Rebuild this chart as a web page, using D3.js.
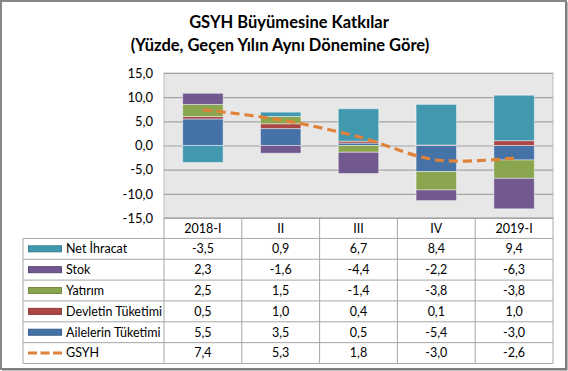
<!DOCTYPE html>
<html>
<head>
<meta charset="utf-8">
<script src="https://cdn.jsdelivr.net/npm/d3@7"></script>
<style>
  body { margin: 0; background: #fff; }
  text { font-family: Lato, "Open Sans", sans-serif; fill: #000; }
</style>
</head>
<body>
<div id="grafik"></div>
<script>
// veriler
const donemler = ["2018-I", "II", "III", "IV", "2019-I"]
const netIhracat = [-3.5, 0.9, 6.7, 8.4, 9.4]
const stok = [2.3, -1.6, -4.4, -2.2, -6.3]
const yatirim = [2.5, 1.5, -1.4, -3.8, -3.8]
const devletTuketimi = [0.5, 1.0, 0.4, 0.1, 1.0]
const ailelerTuketimi = [5.5, 3.5, 0.5, -5.4, -3.0]
const gsyh = [7.4, 5.3, 1.8, -3.0, -2.6]
const yTikleri = [-15, -10, -5, 0, 5, 10, 15]

const ancho = 568
const alto = 371
const plot = { izq: 164, der: 553, arriba: 73, abajo: 218 }
const tabla = { izq: 23, fila: 20.85 }

// seriler (yığın sırası: Excel'deki gibi)
const seriler = [
    { ad: "Ailelerin Tüketimi", veri: ailelerTuketimi, renk: "#4572A7", kenar: "#3A5F8C" },
    { ad: "Devletin Tüketimi", veri: devletTuketimi, renk: "#AA4643", kenar: "#8E3A38" },
    { ad: "Yatırım", veri: yatirim, renk: "#89A54E", kenar: "#728A41" },
    { ad: "Stok", veri: stok, renk: "#71588F", kenar: "#5E4977" },
    { ad: "Net İhracat", veri: netIhracat, renk: "#4198AF", kenar: "#367F92" }
]
// tablo satır sırası
const tabloSatirlari = [
    { ad: "Net İhracat", veri: netIhracat, renk: "#4198AF", kenar: "#367F92" },
    { ad: "Stok", veri: stok, renk: "#71588F", kenar: "#5E4977" },
    { ad: "Yatırım", veri: yatirim, renk: "#89A54E", kenar: "#728A41" },
    { ad: "Devletin Tüketimi", veri: devletTuketimi, renk: "#AA4643", kenar: "#8E3A38" },
    { ad: "Ailelerin Tüketimi", veri: ailelerTuketimi, renk: "#4572A7", kenar: "#3A5F8C" },
    { ad: "GSYH", veri: gsyh, renk: "#E0823A", cizgi: true }
]

const tr = d3.formatLocale({ decimal: ",", thousands: ".", grouping: [3], currency: ["", ""], minus: "-" })
const fmt = tr.format(".1f")

const svg = d3.select("#grafik").append("svg").attr("width", ancho).attr("height", alto)

// çerçeve
svg.append("rect").attr("x", 1).attr("y", 1).attr("width", ancho - 3).attr("height", alto - 3)
    .attr("fill", "#fff").attr("stroke", "#878787").attr("stroke-width", 2)
svg.append("path").attr("d", `M${ancho - 1.5},2V${alto - 1.5}H2`)
    .attr("fill", "none").attr("stroke", "#7a7a7a").attr("stroke-width", 2)

// başlık
svg.append("text").attr("x", 289).attr("y", 28).attr("text-anchor", "middle")
    .attr("font-size", 16.5).attr("font-weight", "bold").text("GSYH Büyümesine Katkılar")
svg.append("text").attr("x", 280).attr("y", 51).attr("text-anchor", "middle")
    .attr("font-size", 16.5).attr("font-weight", "bold").text("(Yüzde, Geçen Yılın Aynı Dönemine Göre)")

const x = d3.scaleBand().domain(donemler).range([plot.izq, plot.der]).padding(0)
const y = d3.scaleLinear().domain([-15, 15]).range([plot.abajo, plot.arriba])

// çizim alanı
svg.append("rect").attr("x", plot.izq).attr("y", plot.arriba)
    .attr("width", plot.der - plot.izq).attr("height", plot.abajo - plot.arriba)
    .attr("fill", "#e7e7e7").attr("stroke", "#bdbdbd")

// ızgara
const izgara = svg.append("g").attr("transform", `translate(${plot.izq},0)`)
    .call(d3.axisLeft(y).tickValues(yTikleri).tickSize(-(plot.der - plot.izq)).tickFormat(""))
izgara.select(".domain").remove()
izgara.selectAll("line").attr("stroke", "#a4a4a4").attr("stroke-width", 1.2)

// y ekseni
const ejeY = svg.append("g").attr("transform", `translate(${plot.izq},0)`)
    .call(d3.axisLeft(y).tickValues(yTikleri).tickSize(0).tickPadding(11).tickFormat(fmt))
ejeY.select(".domain").remove()
ejeY.selectAll("text").attr("font-size", 13).attr("font-family", "Lato, sans-serif").attr("fill", "#000")

// yığılmış çubuklar
const tablaDatos = donemler.map((d, i) => {
    const fila = { donem: d }
    seriler.forEach(s => fila[s.ad] = s.veri[i])
    return fila
})
const yigin = d3.stack().keys(seriler.map(s => s.ad)).offset(d3.stackOffsetDiverging)(tablaDatos)
const barAncho = x.bandwidth() * 0.52

const grupos = svg.append("g").selectAll("g").data(yigin).join("g")
    .attr("fill", (d, i) => seriler[i].renk)
grupos.selectAll("rect").data(d => d).join("rect")
    .attr("x", d => x(d.data.donem) + (x.bandwidth() - barAncho) / 2)
    .attr("width", barAncho)
    .attr("y", d => y(Math.max(d[0], d[1])))
    .attr("height", d => Math.abs(y(d[0]) - y(d[1])))
    .attr("stroke", "#ffffff").attr("stroke-opacity", 0.45).attr("stroke-width", 1)

// GSYH çizgisi
const linea = d3.line()
    .x((d, i) => x(donemler[i]) + x.bandwidth() / 2)
    .y(d => y(d))
    .curve(d3.curveCatmullRom)
svg.append("path").datum(gsyh).attr("d", linea)
    .attr("fill", "none").attr("stroke", "#E0823A").attr("stroke-width", 3.2)
    .attr("stroke-dasharray", "9,5")

// veri tablosu
const tabloAlt = plot.abajo + 20.4 + tabla.fila * tabloSatirlari.length
const lineaColor = "#a6a6a6"
const tg = svg.append("g")
// başlık satırı (x ekseni)
const ejeX = tg.append("g").attr("transform", `translate(0,${plot.abajo})`)
    .call(d3.axisBottom(x).tickSize(0).tickPadding(6))
ejeX.select(".domain").remove()
ejeX.selectAll("text").attr("font-size", 12.5).attr("font-family", "Lato, sans-serif").attr("fill", "#000")

// dikey çizgiler
const dikeyler = [plot.izq].concat(donemler.map(d => x(d) + x.bandwidth()))
tg.selectAll(".dikey").data(dikeyler).join("line")
    .attr("x1", d => d).attr("x2", d => d)
    .attr("y1", plot.abajo).attr("y2", tabloAlt)
    .attr("stroke", lineaColor)
const ilkSatir = plot.abajo + 20.4
tg.append("line").attr("x1", tabla.izq).attr("x2", tabla.izq).attr("y1", ilkSatir).attr("y2", tabloAlt)
    .attr("stroke", lineaColor)
// yatay çizgiler
const yataylar = d3.range(tabloSatirlari.length + 1).map(k => ilkSatir + k * tabla.fila)
tg.selectAll(".yatay").data(yataylar).join("line")
    .attr("x1", tabla.izq).attr("x2", plot.der)
    .attr("y1", d => d).attr("y2", d => d)
    .attr("stroke", lineaColor)
tg.append("line").attr("x1", plot.izq).attr("x2", plot.der).attr("y1", plot.abajo).attr("y2", plot.abajo)
    .attr("stroke", lineaColor)

// satırlar
const filas = tg.selectAll(".fila").data(tabloSatirlari).join("g")
    .attr("transform", (d, k) => `translate(0,${ilkSatir + k * tabla.fila + tabla.fila / 2})`)
filas.each(function (s) {
    const g = d3.select(this)
    if (s.cizgi) {
        g.append("line").attr("x1", 28).attr("x2", 62).attr("y1", 0).attr("y2", 0)
            .attr("stroke", s.renk).attr("stroke-width", 3).attr("stroke-dasharray", "9,3.5")
    } else {
        g.append("rect").attr("x", 28.5).attr("y", -3).attr("width", 33).attr("height", 6)
            .attr("fill", s.renk).attr("stroke", s.kenar).attr("stroke-width", 1)
    }
    g.append("text").attr("x", 66).attr("y", 0).attr("dy", "0.35em")
        .attr("font-size", 12.5).text(s.ad)
    g.selectAll(".deger").data(s.veri).join("text")
        .attr("x", (v, i) => x(donemler[i]) + x.bandwidth() / 2)
        .attr("y", 0).attr("dy", "0.35em").attr("text-anchor", "middle")
        .attr("font-size", 12.5).text(v => fmt(v))
})
</script>
</body>
</html>
